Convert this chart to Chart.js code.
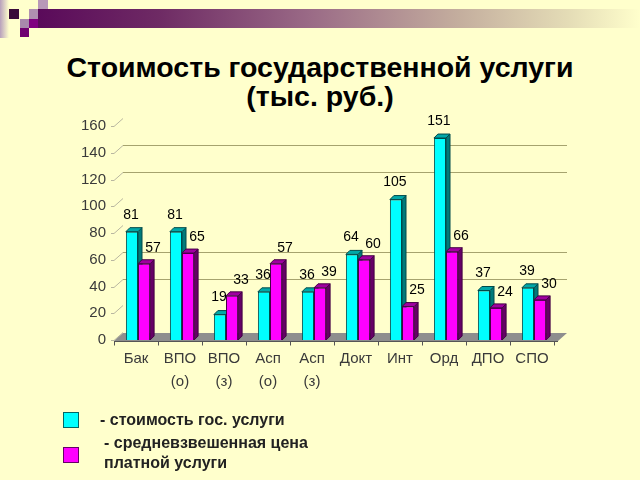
<!DOCTYPE html>
<html><head><meta charset="utf-8">
<script src="https://cdn.jsdelivr.net/npm/chart.js@4.4.1/dist/chart.umd.min.js"></script>
<style>
html,body{margin:0;padding:0;background:#FFFFCC;}
#wrap{position:relative;width:640px;height:480px;overflow:hidden;background:#FFFFCC;font-family:"Liberation Sans",Arial,sans-serif;}
canvas{position:absolute;left:0;top:0;}
.d{position:absolute;}
#title{position:absolute;left:0;top:53px;width:640px;text-align:center;font-weight:bold;font-size:28.5px;line-height:29px;color:#000;}
.lg{position:absolute;font-weight:bold;font-size:16px;line-height:20px;color:#222;white-space:nowrap;}
.box{position:absolute;width:14px;height:14px;}
</style></head>
<body><div id="wrap">
<div class="d" style="left:0;top:0;width:9px;height:38px;background:linear-gradient(to right,#B8A0BC,#FFFFCC);"></div>
<div class="d" style="left:38px;top:9px;width:602px;height:19px;background:linear-gradient(to right,#5A0A5A 0%,#6E2A64 20%,#9A6A86 45%,#C4AE9E 70%,#E4DCB6 88%,#FFFFCC 100%);"></div>
<div class="d" style="left:38px;top:0;width:10px;height:9px;background:#B898B8;"></div>
<div class="d" style="left:9px;top:9px;width:10px;height:10px;background:#3A0A3A;"></div>
<div class="d" style="left:29px;top:9px;width:9px;height:10px;background:#B090B0;"></div>
<div class="d" style="left:20px;top:19px;width:9px;height:9px;background:#A888AC;"></div>
<div class="d" style="left:29px;top:19px;width:9px;height:9px;background:#800080;"></div>
<div class="d" style="left:20px;top:28px;width:9px;height:9px;background:#700070;"></div>
<div id="title">Стоимость государственной услуги<br>(тыс. руб.)</div>
<canvas id="c" width="640" height="480"></canvas>
<div class="box" style="left:63px;top:412px;background:#00FFFF;border:1px solid #006666;"></div>
<div class="box" style="left:63px;top:447px;background:#FF00FF;border:1px solid #660066;"></div>
<div class="lg" style="left:100px;top:410px;">- стоимость гос. услуги</div>
<div class="lg" style="left:104px;top:433px;">- средневзвешенная цена<br>платной услуги</div>
</div>
<script>
const categories = [['Бак'], ['ВПО', '(о)'], ['ВПО', '(з)'], ['Асп', '(о)'], ['Асп', '(з)'], ['Докт'], ['Инт'], ['Орд'], ['ДПО'], ['СПО']];
const costValues = [81, 81, 19, 36, 36, 64, 105, 151, 37, 39];
const priceValues = [57, 65, 33, 57, 39, 60, 25, 66, 24, 30];
const seriesNames = ['стоимость гос. услуги', 'средневзвешенная цена платной услуги'];
const wallGridValues = [40, 60, 120, 140];

const DX = 4, DY = 4, WX = 9, WY = 8, SHIFT = 2;
const faceColors = [
  {front: '#00FFFF', side: '#007A7A', top: '#00A8A8', edge: '#004A4A', labelDx: -1, labelDy: -17},
  {front: '#FF00FF', side: '#660066', top: '#A000A0', edge: '#440044', labelDx: 9, labelDy: -16}
];

const threeD = {
  id: 'threeD',
  beforeDatasetsDraw(chart) {
    const {ctx, chartArea: a, scales: {x, y}} = chart;
    const y0 = y.getPixelForValue(0);
    ctx.save();
    ctx.lineWidth = 1;
    ctx.strokeStyle = '#A6A36E';
    wallGridValues.forEach(v => {
      const py = Math.round(y.getPixelForValue(v) - WY) + 0.5;
      ctx.beginPath(); ctx.moveTo(a.left + WX, py); ctx.lineTo(a.right + WX + 4, py); ctx.stroke();
    });
    ctx.strokeStyle = '#B9B7A0';
    y.ticks.forEach(t => {
      const py = Math.round(y.getPixelForValue(t.value)) + 0.5;
      ctx.beginPath(); ctx.moveTo(a.left - 3, py); ctx.lineTo(a.left, py); ctx.lineTo(a.left + WX, py - WY); ctx.stroke();
    });
    ctx.fillStyle = '#8E8E8E';
    ctx.beginPath();
    ctx.moveTo(a.left, y0 + 1);
    ctx.lineTo(a.left + WX, y0 + 1 - WY);
    ctx.lineTo(a.right + WX + 4, y0 + 1 - WY);
    ctx.lineTo(a.right + 4, y0 + 1);
    ctx.closePath(); ctx.fill();
    ctx.strokeStyle = '#555';
    const fy = Math.round(y0 + 1) + 0.5;
    ctx.beginPath(); ctx.moveTo(a.left, fy); ctx.lineTo(a.right + 4, fy); ctx.stroke();
    const n = chart.data.labels.length;
    for (let i = 0; i <= n; i++) {
      const px = Math.round(a.left + i * a.width / n) + 0.5;
      ctx.beginPath(); ctx.moveTo(px, fy); ctx.lineTo(px, fy + 4); ctx.stroke();
    }
    chart.data.datasets.forEach((ds, di) => {
      const meta = chart.getDatasetMeta(di);
      const c = faceColors[di];
      meta.data.forEach(bar => {
        const l = bar.x - bar.width / 2 + SHIFT, r = bar.x + bar.width / 2 + SHIFT, t = bar.y, b = bar.base;
        ctx.strokeStyle = c.edge;
        ctx.fillStyle = c.side;
        ctx.beginPath();
        ctx.moveTo(r, t); ctx.lineTo(r + DX, t - DY); ctx.lineTo(r + DX, b - DY); ctx.lineTo(r, b);
        ctx.closePath(); ctx.fill(); ctx.stroke();
        ctx.fillStyle = c.top;
        ctx.beginPath();
        ctx.moveTo(l, t); ctx.lineTo(l + DX, t - DY); ctx.lineTo(r + DX, t - DY); ctx.lineTo(r, t);
        ctx.closePath(); ctx.fill(); ctx.stroke();
      });
    });
    ctx.restore();
  },
  beforeDatasetDraw(chart) {
    chart.ctx.save();
    chart.ctx.translate(SHIFT, 0);
  },
  afterDatasetDraw(chart) {
    chart.ctx.restore();
  },
  afterDatasetsDraw(chart) {
    const {ctx} = chart;
    ctx.save();
    ctx.font = '14px "Liberation Sans", Arial, sans-serif';
    ctx.fillStyle = '#000';
    ctx.textAlign = 'center';
    ctx.textBaseline = 'middle';
    chart.data.datasets.forEach((ds, di) => {
      const c = faceColors[di];
      chart.getDatasetMeta(di).data.forEach((bar, i) => {
        ctx.fillText(String(ds.data[i]), bar.x + SHIFT + c.labelDx, bar.y + c.labelDy);
      });
    });
    ctx.restore();
  }
};

new Chart(document.getElementById('c'), {
  type: 'bar',
  data: {
    labels: categories,
    datasets: [
      {label: seriesNames[0], data: costValues, backgroundColor: faceColors[0].front, borderColor: faceColors[0].edge, borderWidth: 1},
      {label: seriesNames[1], data: priceValues, backgroundColor: faceColors[1].front, borderColor: faceColors[1].edge, borderWidth: 1}
    ]
  },
  options: {
    responsive: false,
    animation: false,
    devicePixelRatio: 1,
    layout: {padding: {left: 0, right: 86, top: 126, bottom: 80}},
    datasets: {bar: {categoryPercentage: 0.55, barPercentage: 1}},
    plugins: {legend: {display: false}, tooltip: {enabled: false}, title: {display: false}},
    scales: {
      x: {
        grid: {display: false, drawTicks: false},
        border: {display: false},
        ticks: {color: '#3A3A3A', font: {family: '"Liberation Sans", Arial, sans-serif', size: 15, lineHeight: 1.5}, padding: 8, maxRotation: 0, autoSkip: false},
        afterFit(s) { s.height = 60; }
      },
      y: {
        min: 0, max: 160,
        ticks: {stepSize: 20, color: '#3A3A3A', font: {family: '"Liberation Sans", Arial, sans-serif', size: 15}, padding: 8},
        grid: {display: false, drawTicks: false},
        border: {display: false},
        afterFit(s) { s.width = 114; }
      }
    }
  },
  plugins: [threeD]
});
</script>
</body></html>
